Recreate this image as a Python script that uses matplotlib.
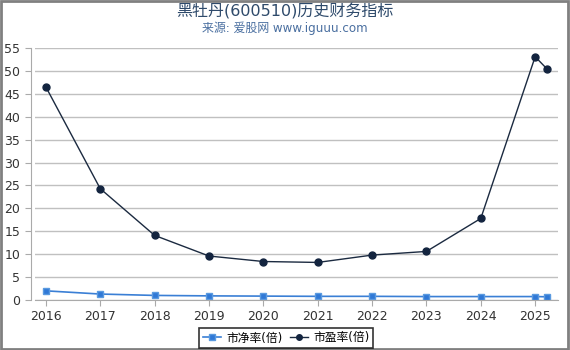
import matplotlib
matplotlib.use('Agg')
import matplotlib.pyplot as plt
from matplotlib.patches import Rectangle

plt.rcParams['font.family'] = ['DejaVu Sans', 'Noto Sans CJK SC']

# dates as fractional years (last point is the latest quarter)
years = [2016, 2017, 2018, 2019, 2020, 2021, 2022, 2023, 2024, 2025, 2025.22]
pb = [2.0, 1.3, 1.0, 0.9, 0.85, 0.8, 0.8, 0.75, 0.75, 0.75, 0.7]
pe = [46.5, 24.3, 14.1, 9.6, 8.4, 8.2, 9.8, 10.6, 17.8, 53.1, 50.4]
xticks = list(range(2016, 2026))

fig = plt.figure(figsize=(5.7, 3.5), dpi=100)
ax = fig.add_axes([35/570, 1 - 300/350, 523/570, 252/350])

ax.plot(years, pb, color='#3a7fd5', lw=1.2, marker='s', ms=5,
        markerfacecolor='#2f78d6', markeredgecolor='#5a9ae0', label='市净率(倍)')
ax.plot(years, pe, color='#1b2a40', lw=1.0, marker='o', ms=5,
        markerfacecolor='#13243f', markeredgecolor='#13243f', label='市盈率(倍)')

ax.set_xlim(2015.8, 2025.42)
ax.set_ylim(0, 55)
ax.set_yticks(range(0, 56, 5))
ax.set_xticks(xticks)
ax.set_xticklabels([str(y) for y in xticks])
ax.grid(axis='y', color='#c0c0c0', lw=1)
ax.set_axisbelow(True)
for s in ['top', 'right']:
    ax.spines[s].set_visible(False)
ax.spines['left'].set_color('#aaaaaa')
ax.spines['bottom'].set_color('#aaaaaa')
ax.spines['left'].set_position(('outward', 3))
ax.tick_params(axis='both', colors='#aaaaaa', labelcolor='#333333', labelsize=9, length=4)

fig.text(0.5, 1 - 11/350, '黑牡丹(600510)历史财务指标', ha='center', va='center',
         fontsize=11.5, color='#2e4a6b', family=['DejaVu Sans', 'Noto Sans CJK SC'])
fig.text(0.5, 1 - 28/350, '来源: 爱股网 www.iguuu.com', ha='center', va='center',
         fontsize=8.6, color='#4a6fa0', family=['DejaVu Sans', 'Noto Sans CJK SC'])

leg = fig.legend(loc='center', bbox_to_anchor=(286/570, 1 - 338/350), ncol=2,
                 frameon=True, fancybox=False, edgecolor='black',
                 prop={'family': ['DejaVu Sans', 'Noto Sans CJK SC'], 'size': 8.5},
                 handlelength=1.6, handletextpad=0.4, columnspacing=0.6,
                 borderpad=0.3, markerscale=0.8)
leg.get_frame().set_linewidth(1.2)

fig.patches.append(Rectangle((0.001, 0.002), 0.996, 0.996, transform=fig.transFigure,
                             fill=False, edgecolor='#808080', lw=2))

fig.savefig('out.png', dpi=100)
